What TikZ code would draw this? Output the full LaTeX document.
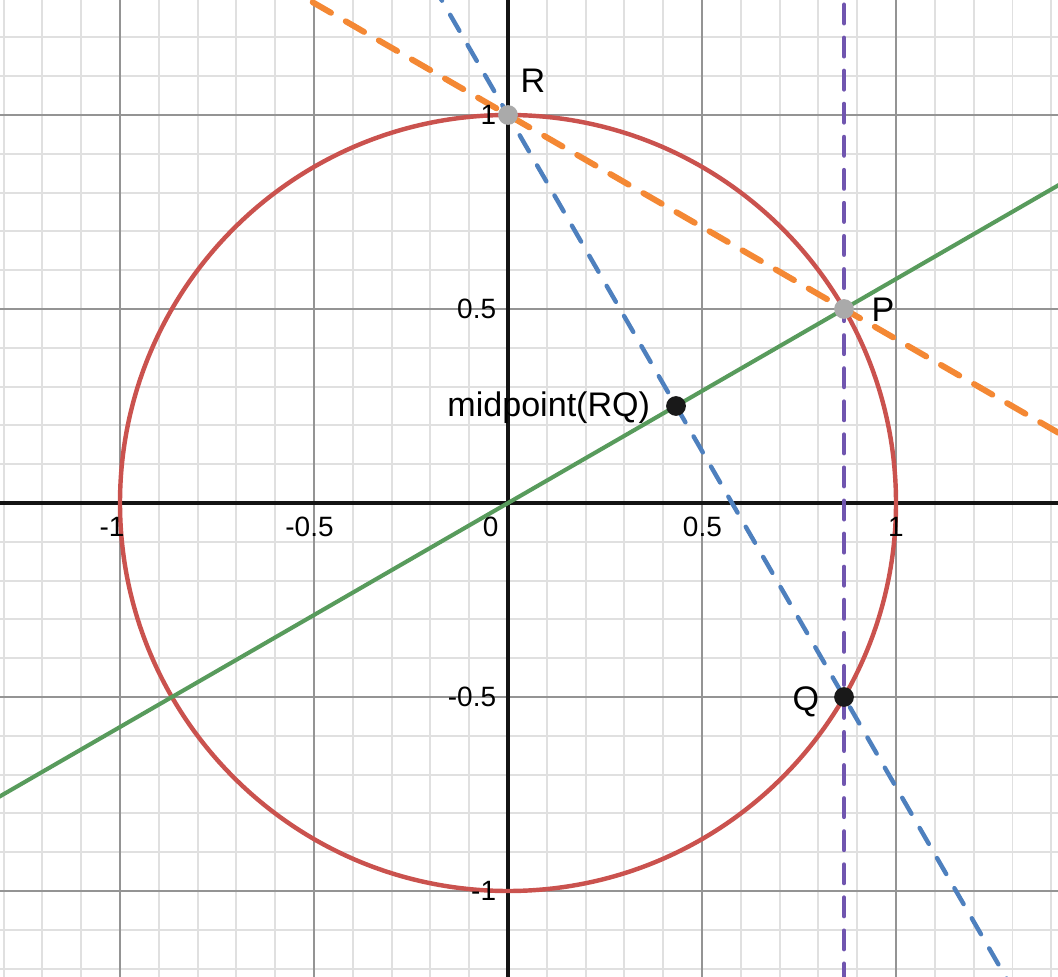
\documentclass[tikz,border=0pt]{standalone}
\usepackage{fontspec}
\setmainfont{Liberation Sans}
\usetikzlibrary{calc}
\definecolor{curveRed}{RGB}{202,82,78}
\definecolor{lineGreen}{RGB}{88,155,92}
\definecolor{lineBlue}{RGB}{78,128,190}
\definecolor{lineOrange}{RGB}{244,136,52}
\definecolor{linePurple}{RGB}{112,85,175}
\definecolor{ptGray}{RGB}{170,170,170}
\tikzset{
    minorgrid/.style={draw=black!12,line width=0.55pt},
    majorgrid/.style={draw=black!42,line width=0.55pt},
    axisline/.style={draw=black!92,line width=1.1pt},
    circ/.style={draw=curveRed,line width=1.3pt},
    gline/.style={draw=lineGreen,line width=1.2pt},
    bline/.style={draw=lineBlue,line width=1.3pt,line cap=round,dash pattern=on 5.4pt off 4.8pt},
    oline/.style={draw=lineOrange,line width=1.75pt,line cap=round,dash pattern=on 6.2pt off 5pt},
    pline/.style={draw=linePurple,line width=1.35pt,line cap=round,dash pattern=on 5.4pt off 4.3pt},
    dot/.style={circle,inner sep=0pt,minimum size=5.8pt},
    ticklbl/.style={font=\fontsize{8.2}{10}\selectfont,inner sep=0pt},
    ptlbl/.style={font=\fontsize{10}{12}\selectfont,inner sep=0pt}
}
\begin{document}
\begin{tikzpicture}[x=4cm,y=4cm]
    \useasboundingbox (-1.3093,-1.2191) rectangle (1.4175,1.2964);
    \clip (-1.3093,-1.2191) rectangle (1.4175,1.2964);
    \draw[minorgrid] (-1.4,-1.3) grid[step=0.1] (1.5,1.4);
    \draw[majorgrid] (-1.5,-1.5) grid[step=0.5] (1.5,1.5);
    \draw[axisline] (-1.4,0) -- (1.5,0);
    \draw[axisline] (0,-1.3) -- (0,1.4);

    \coordinate (O) at (0,0);
    \coordinate (R) at (0,1);
    \coordinate (P) at ({sqrt(3)/2},0.5);
    \coordinate (Q) at ({sqrt(3)/2},-0.5);
    \coordinate (M) at ($(R)!0.5!(Q)$);

    \draw[circ] (O) circle (1);
    \draw[gline] ($(O)!-2!(P)$) -- ($(O)!2!(P)$);
    \draw[bline] ($(R)!-1!(Q)$) -- ($(R)!2!(Q)$);
    \draw[oline] ($(P)!-3!(R)$) -- ($(P)!3!(R)$);
    \draw[pline] ($(P)!-3!(Q)$) -- ($(P)!3!(Q)$);

    \node[dot,fill=ptGray] (Rdot) at (R) {};
    \node[dot,fill=ptGray] (Pdot) at (P) {};
    \node[dot,fill=black!90] (Qdot) at (Q) {};
    \node[dot,fill=black!90] (Mdot) at (M) {};

    \node[ptlbl,anchor=base] (Rlab) at (0.0644,1.0567) {R};
    \node[ptlbl,anchor=base] (Plab) at (0.9665,0.4665) {P};
    \node[ptlbl,anchor=base] (Qlab) at (0.768,-0.536) {Q};
    \node[ptlbl,anchor=base east] (Mlab) at (0.368,0.2242) {midpoint(RQ)};

    \node[ticklbl] (xm1) at (-1.0206,-0.062) {-1};
    \node[ticklbl] (xm05) at (-0.5116,-0.062) {-0.5};
    \node[ticklbl] (x0) at (-0.045,-0.062) {0};
    \node[ticklbl] (x05) at (0.501,-0.062) {0.5};
    \node[ticklbl] (x1) at (1,-0.062) {1};
    \node[ticklbl,anchor=east] (y1) at (-0.029,1) {1};
    \node[ticklbl,anchor=east] (y05) at (-0.029,0.5) {0.5};
    \node[ticklbl,anchor=east] (ym05) at (-0.029,-0.5) {-0.5};
    \node[ticklbl,anchor=east] (ym1) at (-0.029,-1) {-1};
\end{tikzpicture}
\end{document}
